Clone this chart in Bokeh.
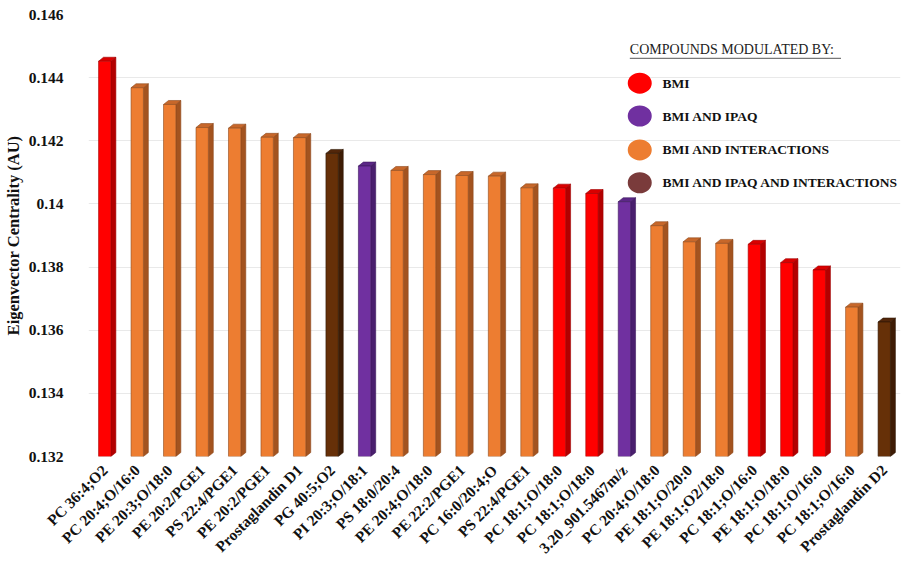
from bokeh.plotting import figure
from bokeh.models import Range1d, FixedTicker, Label
from bokeh.embed import file_html
from bokeh.resources import INLINE

compounds = ["PC 36:4;O2", "PC 20:4;O/16:0", "PE 20:3;O/18:0", "PE 20:2/PGE1", "PS 22:4/PGE1",
             "PE 20:2/PGE1", "Prostaglandin D1", "PG 40:5;O2", "PI 20:3;O/18:1", "PS 18:0/20:4",
             "PE 20:4;O/18:0", "PE 22:2/PGE1", "PC 16:0/20:4;O", "PS 22:4/PGE1", "PC 18:1;O/18:0",
             "PC 18:1;O/18:0", "3.20_901.5467m/z", "PC 20:4;O/18:0", "PE 18:1;O/20:0", "PE 18:1;O2/18:0",
             "PC 18:1;O/16:0", "PE 18:1;O/18:0", "PC 18:1;O/16:0", "PC 18:1;O/16:0", "Prostaglandin D2"]
centrality = [0.14452, 0.14368, 0.14315, 0.14242, 0.14240, 0.14211, 0.14210, 0.14160, 0.14120,
              0.14106, 0.14093, 0.14090, 0.14088, 0.14051, 0.14050, 0.14033, 0.14007, 0.13931,
              0.13880, 0.13875, 0.13872, 0.13814, 0.13791, 0.13673, 0.13626]
group = ["BMI", "INT", "INT", "INT", "INT", "INT", "INT", "ALL", "IPAQ", "INT",
         "INT", "INT", "INT", "INT", "BMI", "BMI", "IPAQ", "INT", "INT", "INT",
         "BMI", "BMI", "BMI", "INT", "ALL"]
y_ticks = [0.132, 0.134, 0.136, 0.138, 0.140, 0.142, 0.144, 0.146]
y_tick_labels = ["0.132", "0.134", "0.136", "0.138", "0.14", "0.142", "0.144", "0.146"]
legend_keys = ["BMI", "IPAQ", "INT", "ALL"]
legend_labels = ["BMI", "BMI AND IPAQ", "BMI AND INTERACTIONS", "BMI AND IPAQ  AND INTERACTIONS"]
legend_title = "COMPOUNDS MODULATED BY:"

front = {"BMI": "#FF0000", "IPAQ": "#7030A0", "INT": "#ED7D31", "ALL": "#663008"}
side = {"BMI": "#B30000", "IPAQ": "#4A1F6E", "INT": "#A3531F", "ALL": "#3E1C05"}
top_c = {"BMI": "#D90000", "IPAQ": "#5C2787", "INT": "#C7672A", "ALL": "#52260A"}
edge = {"BMI": "#A00000", "IPAQ": "#3D1A5C", "INT": "#8E4A1C", "ALL": "#2E1504"}
legend_circle = {"BMI": "#FF0000", "IPAQ": "#7030A0", "INT": "#ED7D31", "ALL": "#7A3B3B"}

W, H = 911, 565
ML, MR, MT, MB = 81, 11, 14, 107
FW, FH = W - ML - MR, H - MT - MB
y0, y1 = y_ticks[0], y_ticks[-1]
x0, x1 = -0.5, len(compounds) - 0.5

p = figure(width=W, height=H, output_backend="svg", toolbar_location=None,
           x_range=Range1d(x0, x1), y_range=Range1d(y0, y1),
           min_border_left=ML, min_border_right=MR, min_border_top=MT, min_border_bottom=MB)
p.outline_line_color = None
p.background_fill_color = "white"
p.xgrid.grid_line_color = None
p.ygrid.grid_line_color = "#E9E9E9"
p.ygrid.grid_line_width = 1

def px_x(px):
    return x0 + (px - ML) * (x1 - x0) / FW

def px_y(py):
    return y1 - (py - MT) * (y1 - y0) / FH

xs = list(range(len(compounds)))
half = 0.19
dx = 5 * (x1 - x0) / FW
dy = 4 * (y1 - y0) / FH

side_x, side_y, top_x, top_y, sc, tc, ec = [], [], [], [], [], [], []
for x, v, g in zip(xs, centrality, group):
    side_x.append([x + half, x + half + dx, x + half + dx, x + half])
    side_y.append([y0, y0 + dy, v + dy, v])
    top_x.append([x - half, x - half + dx, x + half + dx, x + half])
    top_y.append([v, v + dy, v + dy, v])
    sc.append(side[g]); tc.append(top_c[g]); ec.append(edge[g])

p.patches(side_x, side_y, fill_color=sc, line_color=ec, line_width=0.6)
p.patches(top_x, top_y, fill_color=tc, line_color=ec, line_width=0.6)
p.vbar(x=xs, width=2 * half, top=centrality, bottom=y0,
       fill_color=[front[g] for g in group], line_color=ec, line_width=0.6)

SERIF = "Liberation Serif"
p.xaxis.ticker = FixedTicker(ticks=xs)
p.xaxis.major_label_overrides = {i: c for i, c in enumerate(compounds)}
p.xaxis.major_label_orientation = 0.785398
p.xaxis.major_label_text_font = SERIF
p.xaxis.major_label_text_font_style = "bold"
p.xaxis.major_label_text_font_size = "15.5px"
p.xaxis.major_label_text_color = "#111111"
p.xaxis.major_label_standoff = 5
p.xaxis.axis_line_color = None
p.xaxis.major_tick_line_color = None
p.xaxis.minor_tick_line_color = None

p.yaxis.ticker = FixedTicker(ticks=y_ticks)
p.yaxis.major_label_overrides = {t: l for t, l in zip(y_ticks, y_tick_labels)}
p.yaxis.major_label_text_font = SERIF
p.yaxis.major_label_text_font_style = "bold"
p.yaxis.major_label_text_font_size = "15.5px"
p.yaxis.major_label_text_color = "#111111"
p.yaxis.major_label_standoff = 19
p.yaxis.axis_line_color = None
p.yaxis.major_tick_line_color = None
p.yaxis.minor_tick_line_color = None
p.yaxis.axis_label = "Eigenvector Centrality (AU)"
p.yaxis.axis_label_text_font = SERIF
p.yaxis.axis_label_text_font_style = "bold"
p.yaxis.axis_label_text_font_size = "16.5px"
p.yaxis.axis_label_text_color = "#111111"
p.yaxis.axis_label_standoff = 3

# legend (manual)
p.add_layout(Label(x=px_x(627), y=px_y(49), text=legend_title, text_font=SERIF,
                   text_font_size="14px", text_color="#222222", text_baseline="middle"))
p.segment(x0=[px_x(627)], y0=[px_y(58)], x1=[px_x(840)], y1=[px_y(58)],
          line_color="#555555", line_width=1)
rows = [83, 116, 150, 183]
p.ellipse(x=[px_x(637)] * 4, y=[px_y(r) for r in rows], width=24, height=21,
          width_units="screen", height_units="screen",
          fill_color=[legend_circle[k] for k in legend_keys], line_color=None)
for r, lab in zip(rows, legend_labels):
    p.add_layout(Label(x=px_x(660), y=px_y(r), text=lab, text_font=SERIF,
                       text_font_style="bold", text_font_size="13.5px",
                       text_color="#111111", text_baseline="middle"))

open("out.html", "w").write(file_html(p, INLINE))
